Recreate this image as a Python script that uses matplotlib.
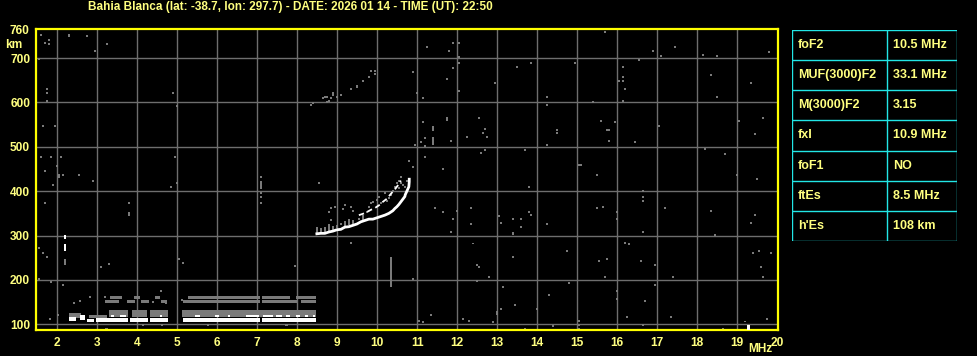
import matplotlib
matplotlib.use('Agg')
import matplotlib.pyplot as plt

plt.rcParams['font.family'] = ['Liberation Sans Narrow', 'Liberation Sans', 'DejaVu Sans']
plt.rcParams['font.weight'] = 'bold'

title = 'Bahia Blanca (lat: -38.7, lon: 297.7) - DATE: 2026 01 14 - TIME (UT): 22:50'
freq_ticks = list(range(2, 21))
height_ticks = [100, 200, 300, 400, 500, 600, 700]

# table of scaled parameters
param_names = ['foF2', 'MUF(3000)F2', 'M(3000)F2', 'fxI', 'foF1', 'ftEs', "h'Es"]
param_values = ['10.5 MHz', '33.1 MHz', '3.15', '10.9 MHz', 'NO', '8.5 MHz', '108 km']

# F2 ordinary trace (white)
trace_o_f = [8.49, 8.59, 8.69, 8.79, 8.89, 8.99, 9.09, 9.19, 9.29, 9.39, 9.49, 9.59, 9.69, 9.79,
             9.89, 9.99, 10.09, 10.19, 10.29, 10.39, 10.44, 10.49, 10.54, 10.59, 10.64, 10.69,
             10.70, 10.74, 10.79, 10.80, 10.80]
trace_o_h = [304, 305, 305, 308, 310, 313, 314, 319, 320, 323, 326, 331, 334, 337,
             337, 340, 343, 346, 350, 356, 361, 365, 370, 376, 382, 388,
             392, 400, 410, 421, 427]
# F2 extraordinary branch (white, broken)
trace_x_f = [9.54, 9.64, 9.74, 9.84, 9.94, 10.04, 10.14, 10.24, 10.34, 10.44, 10.54, 10.59]
trace_x_h = [346, 349, 353, 358, 362, 368, 376, 383, 394, 404, 416, 424]

# gray echo dots
dots_f = [1.59, 2.29, 2.29, 2.74, 1.69, 1.79, 1.79, 3.24, 2.94, 1.54, 1.74, 1.74, 1.74, 4.89, 4.99,
          1.64, 1.94, 1.59, 1.84, 2.09, 4.94, 1.69, 1.99, 2.04, 2.04, 2.14, 2.54, 7.09,
          11.24, 11.89, 12.04, 11.79, 12.04, 12.04, 13.49, 13.84, 10.89, 11.89, 11.74, 12.94, 12.04,
          10.99, 11.14,
          8.34, 8.39, 8.64, 8.69, 8.74, 8.74, 8.79, 8.84, 8.89, 8.89, 8.99, 9.09, 9.34, 9.49, 9.49,
          9.64, 9.79, 9.84, 9.94, 9.94,
          11.74, 11.74, 12.54, 12.69, 12.64, 12.74, 12.24, 11.14, 11.19, 11.09, 10.94, 11.19, 11.84,
          12.59, 12.69, 13.69, 11.19, 10.79, 10.89, 11.64, 10.59,
          15.69, 16.89, 17.44, 18.14, 18.49, 19.79, 17.09, 14.94, 16.54, 16.14, 16.14, 16.04, 16.14,
          16.19, 16.14, 18.34, 19.34, 18.49, 14.24, 14.24, 15.39, 15.59, 15.94, 14.49, 14.49, 15.74,
          15.79, 15.79, 16.44, 17.04, 14.24, 19.04, 19.64, 19.44, 18.19, 18.69, 15.04, 15.09, 15.49,
          18.99, 19.49,
          1.89, 2.89, 4.84, 4.99, 7.09, 7.09, 7.09, 1.69, 3.79, 1.64, 1.74, 5.04, 5.14, 3.09, 1.54,
          2.14, 4.59, 3.24,
          8.54, 9.34, 10.89, 11.44, 11.64, 11.99, 12.34, 11.89, 12.34, 11.84, 13.04, 13.09, 13.39,
          13.59, 13.59, 13.79, 13.84, 13.79, 13.39, 12.49, 12.54, 12.79, 12.49, 13.14, 13.44, 13.09,
          11.34, 11.04, 11.14, 12.14, 12.29, 12.89, 13.69, 7.74,
          16.64, 16.64, 16.64, 15.49, 15.64, 15.99, 15.99, 17.19, 18.34, 19.44, 19.34, 14.24, 16.64,
          18.44, 16.19, 16.29, 14.74, 15.54, 15.74, 16.59, 16.94, 15.69, 17.39, 19.39, 19.54, 19.84,
          19.59, 19.64, 14.79, 16.94, 14.29, 15.99, 15.99, 16.69, 13.99, 16.24, 17.34, 19.74, 15.04,
          15.04, 15.04, 14.39, 16.64, 18.64,
          2.42, 2.57, 2.82, 3.19, 1.82, 2.03, 3.22, 4.15, 4.63, 5.78, 7.72, 5.12, 4.40, 4.73,
          8.84, 8.79, 8.84, 8.94, 9.14, 9.19, 9.34, 9.09, 9.39, 9.54, 9.74, 9.79, 9.84, 9.89, 9.99,
          10.04, 10.09, 10.19, 10.24, 10.29, 10.34, 10.39, 10.44, 10.49, 10.54, 10.59, 10.54, 10.64,
          10.69, 10.74]
dots_h = [753, 753, 749, 749, 735, 740, 731, 731, 717, 698, 631, 622, 604, 622, 591,
          546, 546, 478, 478, 478, 478, 446, 456, 437, 433, 437, 437, 433,
          726, 735, 735, 717, 702, 690, 681, 690, 668, 677, 654, 645, 627,
          622, 609,
          595, 598, 609, 612, 612, 600, 604, 609, 621, 617, 613, 618, 631, 638, 634,
          649, 658, 672, 670, 665,
          565, 561, 564, 541, 532, 523, 523, 555, 519, 510, 505, 501, 514,
          487, 492, 492, 478, 469, 455, 451, 433,
          758, 717, 726, 708, 704, 713, 704, 690, 695, 681, 658, 649, 649,
          631, 604, 663, 645, 613, 613, 595, 600, 559, 555, 537, 532, 537,
          537, 514, 510, 546, 505, 559, 564, 528, 496, 483, 460, 460, 437,
          437, 428,
          415, 424, 410, 419, 397, 388, 374, 374, 374, 261, 252, 248, 239, 230, 203,
          189, 176, 90,
          419, 284, 203, 361, 352, 356, 361, 338, 325, 307, 343, 329, 338,
          338, 320, 352, 347, 410, 252, 234, 230, 207, 198, 185, 144, 135,
          122, 108, 104, 113, 108, 104, 90, 99,
          401, 388, 379, 361, 365, 352, 338, 361, 356, 347, 329, 325, 307,
          302, 284, 280, 266, 243, 248, 243, 234, 207, 207, 261, 266, 261,
          230, 207, 194, 189, 167, 176, 158, 153, 135, 117, 117, 113, 108,
          99, 90, 95, 99, 90,
          149, 153, 162, 162, 113, 121, 89, 98, 98, 98, 98, 155, 151, 149,
          334, 352, 361, 364, 359, 370, 365, 326, 356, 338, 352, 365, 373, 376, 380,
          388, 374, 395, 379, 385, 392, 400, 409, 418, 424, 419, 407, 415,
          410, 424]

# gray vertical echo streaks
streak_f = [11.39, 11.39, 7.09, 3.79, 2.19, 1.54, 3.29, 10.34, 7.94, 12.39, 13.39, 12.99, 19.19, 1.84,
            8.49, 8.59, 8.69, 8.79, 8.89, 8.99, 9.19, 9.29, 9.39, 9.64]
streak_h0 = [536, 504, 406, 343, 234, 270, 234, 185, 230, 280, 302, 122, 104, 194,
             304, 307, 308, 310, 313, 316, 322, 323, 326, 334]
streak_h1 = [547, 523, 424, 352, 248, 275, 239, 252, 234, 284, 307, 131, 108, 197,
             320, 316, 319, 326, 322, 323, 332, 338, 335, 347]
# white vertical streaks
wstreak_f = [2.19, 2.19]
wstreak_h0 = [293, 265]
wstreak_h1 = [302, 280]

# sporadic E echoes: gray blocks (f0, f1, h0, h1)
es_gray_f0 = [2.30, 2.80, 3.30, 3.88, 4.32, 5.12,
              3.32, 3.92, 4.44, 5.27, 7.12, 7.98,
              3.20, 3.75, 4.10, 4.60, 5.15, 7.12, 8.10]
es_gray_f1 = [2.60, 3.25, 3.78, 4.24, 4.78, 8.47,
              3.62, 4.08, 4.58, 7.07, 7.82, 8.47,
              3.55, 3.95, 4.30, 4.75, 7.07, 8.00, 8.47]
es_gray_h0 = [114, 114, 116, 116, 116, 116,
              156, 156, 156, 156, 156, 156,
              147, 147, 147, 147, 147, 147, 147]
es_gray_h1 = [125, 122, 133, 133, 133, 133,
              164, 164, 164, 164, 164, 164,
              154.5, 154.5, 154.5, 154.5, 154.5, 154.5, 154.5]
# white blocks
es_white_f0 = [2.30, 2.56, 2.75, 2.98, 3.81, 4.31, 5.14, 7.12, 19.24,
               3.35, 3.58, 4.56, 5.44, 5.95, 6.27, 6.73, 7.14, 7.48, 7.73, 7.98, 8.19, 8.40]
es_white_f1 = [2.48, 2.70, 2.93, 3.77, 4.27, 4.78, 7.06, 8.46, 19.31,
               3.43, 3.71, 4.61, 5.58, 6.05, 6.31, 7.05, 7.40, 7.61, 7.82, 8.07, 8.28, 8.45]
es_white_h0 = [108, 110, 106, 105, 105, 105, 105, 105, 86,
               117, 117, 117, 117, 117, 117, 117, 117, 117, 117, 117, 117, 117]
es_white_h1 = [116, 121, 112, 115, 115, 115, 115, 115, 99,
               122, 122, 122, 122, 122, 122, 122, 122, 122, 122, 122, 122, 122]

yellow = '#ffff00'
txt = '#ffff80'
gray = '#7a7a7a'
cyan = '#22e6e6'

W, H = 978, 356
fig = plt.figure(figsize=(W / 100, H / 100), dpi=100, facecolor='black')
ax = fig.add_axes([35.7 / W, (H - 330.3) / H, (778 - 35.7) / W, (330.3 - 29.3) / H])
ax.set_facecolor('black')
ax.set_xlim(1.46, 20.02)
ax.set_ylim(86.4, 765)

# grid
for f in freq_ticks[:-1]:
    ax.axvline(f, color='#6e6e6e', lw=1.0, zorder=1)
for h in height_ticks:
    ax.axhline(h, color='#6e6e6e', lw=1.0, zorder=1)

# sporadic E
ax.bar(es_gray_f0, [b - a for a, b in zip(es_gray_h0, es_gray_h1)],
       width=[b - a for a, b in zip(es_gray_f0, es_gray_f1)], bottom=es_gray_h0,
       align='edge', color=gray, linewidth=0, zorder=2)
ax.bar(es_white_f0, [b - a for a, b in zip(es_white_h0, es_white_h1)],
       width=[b - a for a, b in zip(es_white_f0, es_white_f1)], bottom=es_white_h0,
       align='edge', color='white', linewidth=0, zorder=3)

# echoes
ax.scatter(dots_f, dots_h, marker='s', s=2.2, color=gray, linewidths=0, zorder=2)
ax.vlines(streak_f, streak_h0, streak_h1, color=gray, lw=1.44, zorder=2)
ax.vlines(wstreak_f, wstreak_h0, wstreak_h1, color='white', lw=1.44, zorder=3)
ax.plot(trace_o_f, trace_o_h, color='white', lw=2.0, zorder=4)
ax.plot(trace_x_f, trace_x_h, color='white', lw=1.3, ls=(0, (3, 2)), zorder=4)

# frame and ticks
for s in ax.spines.values():
    s.set_color(yellow)
    s.set_linewidth(1.6)
ax.set_xticks(freq_ticks)
ax.set_xticklabels([str(f) for f in freq_ticks])
ax.set_yticks(height_ticks)
ax.set_yticklabels([str(h) for h in height_ticks])
ax.tick_params(length=0, colors=txt, labelsize=8.6)
ax.tick_params(axis='x', pad=4.5)
ax.tick_params(axis='y', pad=4)

fig.text(29.5 / W, 1 - 31 / H, '760', color=txt, fontsize=8.6, ha='right', va='center', fontweight='bold')
fig.text(5 / W, 1 - 45.5 / H, 'km', color=txt, fontsize=8.6, ha='left', va='center', fontweight='bold')
fig.text(760 / W, 1 - 349 / H, 'MHz', color=txt, fontsize=8.6, ha='center', va='center', fontweight='bold')
fig.text(290 / W, 1 - 7 / H, title, color=txt, fontsize=8.5, ha='center', va='center', fontweight='bold')

# parameter table
tab = fig.add_axes([792 / W, (H - 241) / H, 165 / W, 211 / H])
tab.set_xlim(0, 165)
tab.set_ylim(len(param_names), 0)
tab.axis('off')
tab.patch.set_alpha(0)
for i in range(len(param_names) + 1):
    tab.axhline(i, color=cyan, lw=1.0)
for x in [0, 95, 165]:
    tab.axvline(x, color=cyan, lw=1.0)
for i, (n, v) in enumerate(zip(param_names, param_values)):
    tab.text(6, i + 0.5, n, color=txt, fontsize=9, va='center', ha='left', fontweight='bold')
    tab.text(101, i + 0.5, v, color=txt, fontsize=9, va='center', ha='left', fontweight='bold')

fig.savefig('out.png', dpi=100, facecolor='black')
